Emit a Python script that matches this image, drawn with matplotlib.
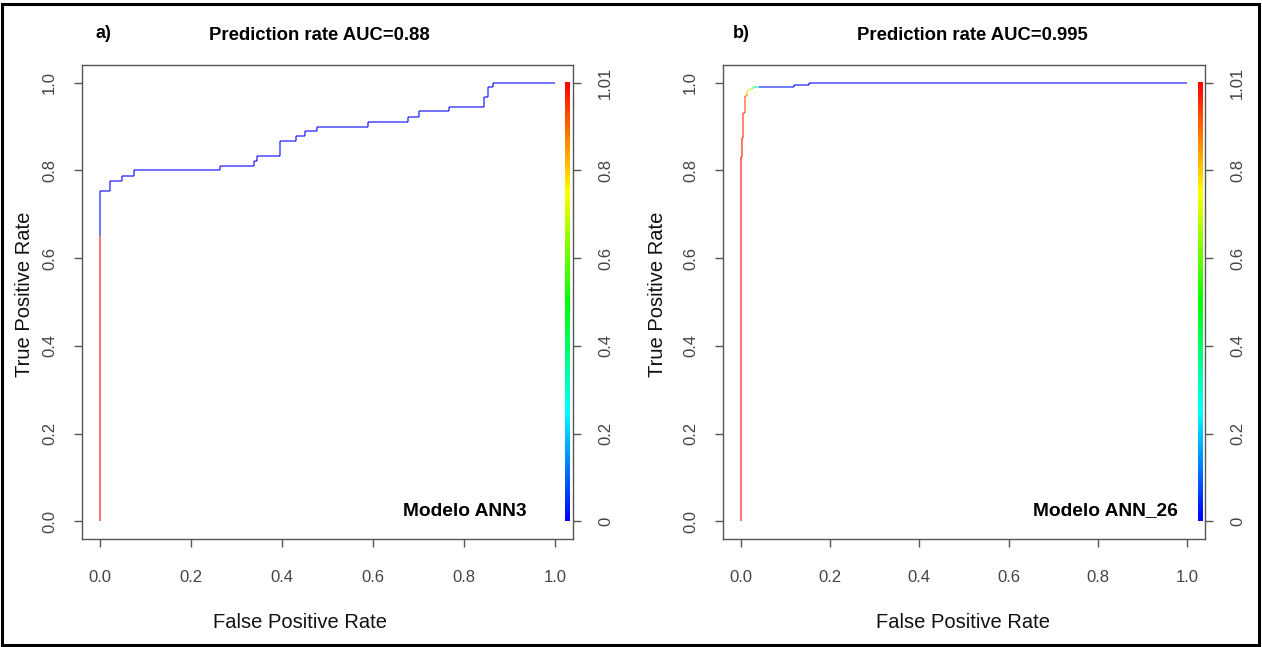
import colorsys
import numpy as np
import matplotlib
matplotlib.use("Agg")
import matplotlib.pyplot as plt
from matplotlib.collections import LineCollection
from matplotlib.colors import ListedColormap
from matplotlib.patches import Rectangle

plt.rcParams['font.family'] = ['Liberation Sans', 'DejaVu Sans']

# ROC curve a) - Modelo ANN3 (corner points read from the picture)
fpr_a = [0, 0, 0, 0.021, 0.021, 0.048, 0.048, 0.075, 0.075, 0.264, 0.264, 0.338, 0.338,
         0.346, 0.346, 0.395, 0.395, 0.431, 0.431, 0.451, 0.451, 0.477, 0.477, 0.590,
         0.590, 0.676, 0.676, 0.702, 0.702, 0.767, 0.767, 0.844, 0.844, 0.852, 0.852,
         0.863, 0.863, 1.0]
tpr_a = [0, 0.65, 0.753, 0.753, 0.776, 0.776, 0.786, 0.786, 0.800, 0.800, 0.809, 0.809,
         0.822, 0.822, 0.832, 0.832, 0.866, 0.866, 0.878, 0.878, 0.889, 0.889, 0.899,
         0.899, 0.911, 0.911, 0.922, 0.922, 0.935, 0.935, 0.945, 0.945, 0.967, 0.967,
         0.991, 0.991, 1.0, 1.0]
cut_a = [1.01, 1.0] + [0.0] * 36

# ROC curve b) - Modelo ANN_26
fpr_b = [0, 0, 0.002, 0.002, 0.005, 0.005, 0.009, 0.009, 0.013, 0.013, 0.016, 0.024,
         0.029, 0.040, 0.040, 0.119, 0.119, 0.152, 0.152, 0.641, 0.641, 1.0]
tpr_b = [0, 0.83, 0.83, 0.874, 0.874, 0.931, 0.931, 0.969, 0.969, 0.976, 0.982, 0.986,
         0.989, 0.989, 0.991, 0.991, 0.995, 0.995, 0.998, 0.998, 1.0, 1.0]
cut_b = [1.01, 1.0, 0.99, 0.98, 0.97, 0.96, 0.95, 0.93, 0.9, 0.85, 0.8, 0.7, 0.55,
         0.35, 0.05, 0.02, 0.01, 0.0, 0.0, 0.0, 0.0, 0.0]

ticks = [0.0, 0.2, 0.4, 0.6, 0.8, 1.0]
tick_labels = ['0.0', '0.2', '0.4', '0.6', '0.8', '1.0']
cut_labels = ['0', '0.2', '0.4', '0.6', '0.8', '1.01']

titles = ['Prediction rate AUC=0.88', 'Prediction rate AUC=0.995']
panel_tags = ['a)', 'b)']
model_names = ['Modelo ANN3', 'Modelo ANN_26']

# R style rainbow: blue (low cutoff) -> red (high cutoff)
rainbow = ListedColormap([colorsys.hsv_to_rgb((1 - v) * 2 / 3, 1, 1)
                          for v in np.linspace(0, 1, 256)])

fig = plt.figure(figsize=(12.62, 6.47), dpi=100)
W, H = 1262, 647
boxes = [(82, 65, 491, 474), (723, 65, 482, 474)]
bar_x = [(1.022, 1.032), (1.025, 1.035)]
title_x = [319, 972]
tag_x = [103, 741]
model_x = [465, 1105]
ylab_x = [25, 658]
xlab_x = [300, 963]

gray = '#555555'
for i, (fpr, tpr, cut) in enumerate([(fpr_a, tpr_a, cut_a), (fpr_b, tpr_b, cut_b)]):
    l, t, w, h = boxes[i]
    ax = fig.add_axes([l / W, 1 - (t + h) / H, w / W, h / H])

    pts = np.column_stack([fpr, tpr])
    segs = np.stack([pts[:-1], pts[1:]], axis=1)
    lc = LineCollection(segs, colors=rainbow(np.clip(cut[1:], 0, 1)), linewidths=1.2, alpha=0.65)
    ax.add_collection(lc)

    grad = np.linspace(0, 1, 256).reshape(-1, 1)
    ax.imshow(grad, cmap=rainbow, origin='lower', aspect='auto',
              extent=[bar_x[i][0], bar_x[i][1], 0, 1], zorder=3)
    ax.set_xlim(-0.04, 1.04)
    ax.set_ylim(-0.04, 1.04)

    for s in ax.spines.values():
        s.set_color(gray)
        s.set_linewidth(1.0)
    ax.set_xticks(ticks)
    ax.set_xticklabels(tick_labels)
    ax.set_yticks(ticks)
    ax.set_yticklabels(tick_labels, rotation=90, va='center')
    ax.tick_params(axis='both', direction='out', length=6, width=1, color=gray,
                   labelcolor='#444444', labelsize=12)
    ax.tick_params(axis='x', pad=16)
    ax.tick_params(axis='y', pad=12)

    ax2 = ax.twinx()
    ax2.set_ylim(-0.04, 1.04)
    ax2.set_yticks(ticks)
    ax2.set_yticklabels(cut_labels, rotation=90, va='center')
    ax2.tick_params(axis='y', direction='out', length=6, width=1, color=gray,
                    labelcolor='#444444', labelsize=12, pad=12)
    for s in ax2.spines.values():
        s.set_visible(False)

    fig.text(title_x[i] / W, 1 - 35 / H, titles[i], fontsize=13.3, fontweight='bold',
             ha='center', va='center')
    fig.text(tag_x[i] / W, 1 - 33 / H, panel_tags[i], fontsize=13, fontweight='bold',
             ha='center', va='center')
    fig.text(model_x[i] / W, 1 - 511 / H, model_names[i], fontsize=13.8, fontweight='bold',
             ha='center', va='center')
    fig.text(xlab_x[i] / W, 1 - 622 / H, 'False Positive Rate', fontsize=14.5,
             ha='center', va='center', color='#111111')
    fig.text(ylab_x[i] / W, 1 - 294 / H, 'True Positive Rate', fontsize=14.5,
             ha='center', va='center', rotation=90, color='#111111')

fig.patches.append(Rectangle((2 / W, 2 / H), 1 - 5 / W, 1 - 6 / H, transform=fig.transFigure,
                             fill=False, edgecolor='black', linewidth=2.2))

fig.savefig('out.png', dpi=100, facecolor='white')
